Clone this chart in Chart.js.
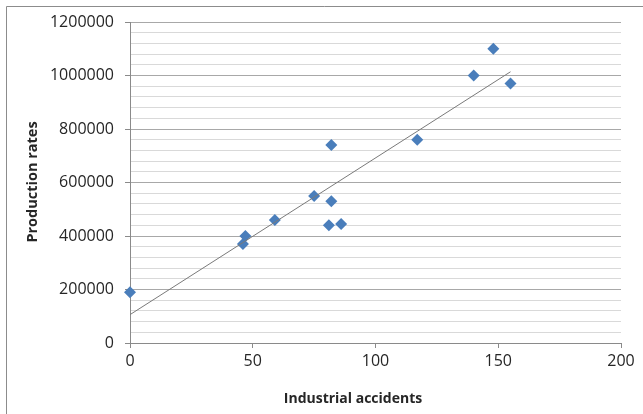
<!DOCTYPE html>
<html>
<head>
<meta charset="utf-8">
<script src="https://cdn.jsdelivr.net/npm/chart.js@4/dist/chart.umd.min.js"></script>
<style>
  html, body { margin: 0; padding: 0; background: #fff; }
  #c { display: block; }
</style>
</head>
<body>
<canvas id="c" width="643" height="414"></canvas>
<script>
// Data
const accidents = [0, 46, 47, 59, 75, 82, 82, 81, 86, 117, 140, 148, 155];
const production = [190000, 370000, 400000, 460000, 550000, 740000, 530000, 440000, 445000, 760000, 1000000, 1100000, 970000];
// Linear trendline endpoints
const trendX = [0, 155];
const trendY = [106000, 1014000];
// Axis settings
const xTicks = [0, 50, 100, 150, 200];
const yTicks = [0, 200000, 400000, 600000, 800000, 1000000, 1200000];
const yMinorStep = 40000;
const xTitle = 'Industrial accidents';
const yTitle = 'Production rates';

const MAJOR = '#a8a8a8';
const MINOR = '#d9d9d9';
const AXIS = '#8a8a8a';
const TEXT = '#262626';
const BLUE = '#4a7ebb';

const scatterData = accidents.map((x, i) => ({ x: x, y: production[i] }));
const trendData = trendX.map((x, i) => ({ x: x, y: trendY[i] }));

const decor = {
  id: 'decor',
  beforeDraw(chart) {
    const ctx = chart.ctx;
    ctx.save();
    ctx.fillStyle = '#ffffff';
    ctx.fillRect(0, 0, chart.width, chart.height);
    ctx.strokeStyle = '#8c8c8c';
    ctx.lineWidth = 1;
    ctx.beginPath();
    ctx.moveTo(6.5, chart.height);
    ctx.lineTo(6.5, 6.5);
    ctx.lineTo(chart.width, 6.5);
    ctx.stroke();
    ctx.restore();
  },
  afterDraw(chart) {
    const ctx = chart.ctx;
    ctx.save();
    ctx.fillStyle = TEXT;
    ctx.font = 'bold 14px "Open Sans"';
    ctx.textAlign = 'center';
    ctx.textBaseline = 'middle';
    ctx.fillText(xTitle, 353, 399);
    ctx.font = 'bold 14.5px "Open Sans"';
    ctx.translate(33, 182);
    ctx.rotate(-Math.PI / 2);
    ctx.fillText(yTitle, 0, 0);
    ctx.restore();
  }
};

new Chart(document.getElementById('c'), {
  type: 'scatter',
  data: {
    datasets: [
      {
        label: 'Trend',
        data: trendData,
        showLine: true,
        borderColor: '#7a7a7a',
        borderWidth: 1,
        pointRadius: 0,
        fill: false
      },
      {
        label: 'Data',
        data: scatterData,
        pointStyle: 'rectRot',
        pointRadius: 6,
        backgroundColor: BLUE,
        borderColor: BLUE,
        borderWidth: 0,
        clip: false
      }
    ]
  },
  options: {
    responsive: false,
    animation: false,
    layout: { padding: { top: 22, right: 22, left: 0, bottom: 0 } },
    plugins: { legend: { display: false }, tooltip: { enabled: false } },
    scales: {
      x: {
        type: 'linear',
        min: xTicks[0],
        max: xTicks[xTicks.length - 1],
        afterBuildTicks(scale) { scale.ticks = xTicks.map(v => ({ value: v })); },
        afterFit(scale) { scale.height = 71; },
        border: { color: AXIS, width: 1 },
        grid: { drawOnChartArea: false, tickLength: 5, tickColor: AXIS },
        ticks: {
          color: TEXT,
          font: { family: 'Open Sans', size: 16 },
          padding: 4,
          maxRotation: 0,
          autoSkip: false
        }
      },
      y: {
        type: 'linear',
        min: yTicks[0],
        max: yTicks[yTicks.length - 1],
        afterFit(scale) { scale.width = 130; },
        border: { color: AXIS, width: 1 },
        grid: {
          color: c => (c.tick && yTicks.includes(c.tick.value)) ? MAJOR : MINOR,
          tickColor: c => (c.tick && yTicks.includes(c.tick.value)) ? AXIS : 'rgba(0,0,0,0)',
          tickLength: 5,
          lineWidth: 1
        },
        ticks: {
          stepSize: yMinorStep,
          autoSkip: false,
          color: TEXT,
          font: { family: 'Open Sans', size: 16 },
          padding: 11,
          callback: v => yTicks.includes(v) ? String(v) : ''
        }
      }
    }
  },
  plugins: [decor]
});
</script>
</body>
</html>
